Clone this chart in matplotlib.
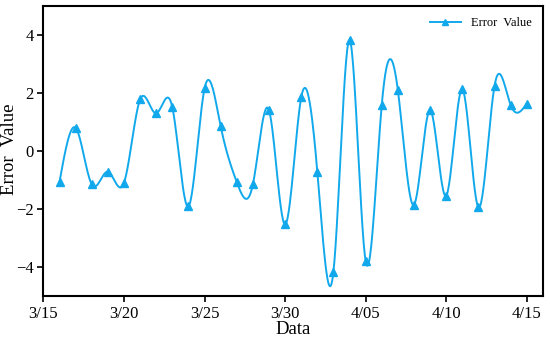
import numpy as np
import matplotlib
matplotlib.use("Agg")
import matplotlib.pyplot as plt

# day index 1..30 (3/16 .. 4/15)
days = list(range(1, 31))
errors = [-1.05, 0.80, -1.15, -0.71, -1.09, 1.78, 1.30, 1.51, -1.91, 2.16,
          0.86, -1.07, -1.15, 1.41, -2.53, 1.85, -0.71, -4.16, 3.83, -3.79,
          1.59, 2.10, -1.85, 1.41, -1.54, 2.13, -1.94, 2.25, 1.59, 1.64]
tick_pos = [0, 5, 10, 15, 20, 25, 30]
tick_labels = ["3/15", "3/20", "3/25", "3/30", "4/05", "4/10", "4/15"]

color = "#12A9EC"


def natural_spline(x, y, xs):
    x = np.asarray(x, float)
    y = np.asarray(y, float)
    n = len(x)
    h = np.diff(x)
    A = np.zeros((n, n))
    b = np.zeros(n)
    A[0, 0] = 1
    A[-1, -1] = 1
    for i in range(1, n - 1):
        A[i, i - 1] = h[i - 1]
        A[i, i] = 2 * (h[i - 1] + h[i])
        A[i, i + 1] = h[i]
        b[i] = 3 * ((y[i + 1] - y[i]) / h[i] - (y[i] - y[i - 1]) / h[i - 1])
    c = np.linalg.solve(A, b)
    idx = np.clip(np.searchsorted(x, xs) - 1, 0, n - 2)
    dx = xs - x[idx]
    bb = (y[idx + 1] - y[idx]) / h[idx] - h[idx] * (2 * c[idx] + c[idx + 1]) / 3
    d = (c[idx + 1] - c[idx]) / (3 * h[idx])
    return y[idx] + bb * dx + c[idx] * dx ** 2 + d * dx ** 3


plt.rcParams['font.family'] = ['Liberation Serif', 'DejaVu Serif']

fig = plt.figure(figsize=(5.5, 3.38), dpi=100)
ax = fig.add_axes([0.079, 0.124, 0.908, 0.858])

xs = np.linspace(days[0], days[-1], 800)
ys = natural_spline(days, errors, xs)
ax.plot(xs, ys, color=color, lw=1.4)
ax.plot(days, errors, linestyle='none', marker='^', ms=6, color=color)
ax.plot([], [], color=color, lw=1.4, marker='^', ms=5, label="Error  Value")

ax.set_xlim(0, 31)
ax.set_ylim(-5, 5)
ax.set_xticks(tick_pos)
ax.set_xticklabels(tick_labels)
ax.set_yticks([-4, -2, 0, 2, 4])
ax.tick_params(labelsize=12, width=1.2, length=4, direction='out', pad=3)
for s in ax.spines.values():
    s.set_linewidth(1.5)

fig.text(293 / 550, 1 - 329 / 338, "Data", fontsize=13.5, ha='center', va='center')
fig.text(10 / 550, 1 - 149 / 338, "Error  Value", fontsize=13.5, ha='center',
         va='center', rotation=90)
ax.legend(loc='upper right', frameon=False, fontsize=9, handlelength=2.5)

fig.savefig("out.png", dpi=100)
